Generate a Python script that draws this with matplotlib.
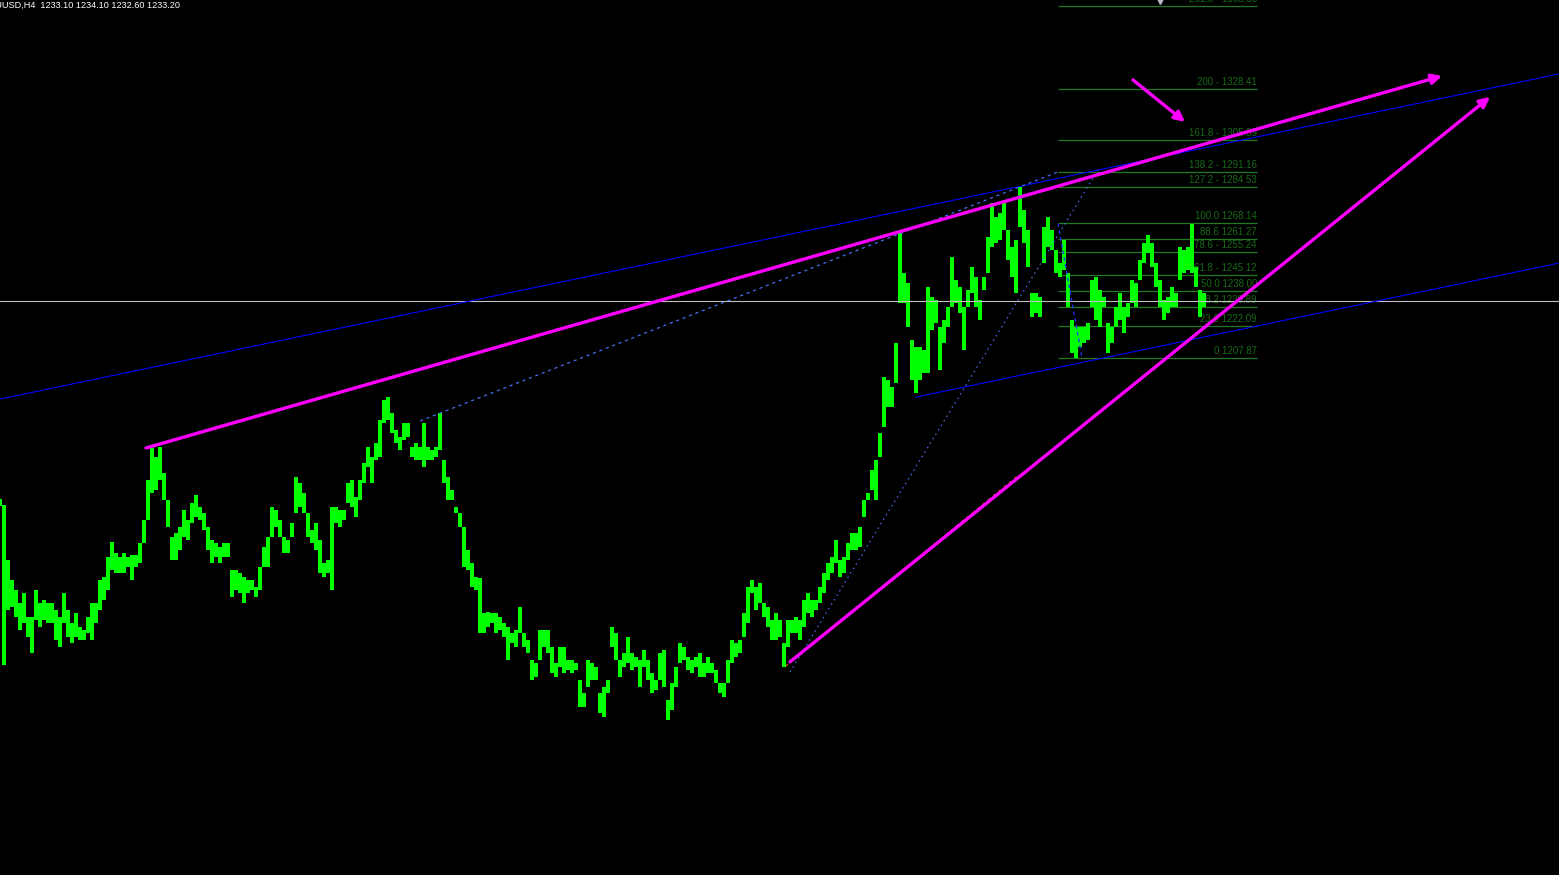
import matplotlib
matplotlib.use('Agg')
import matplotlib.pyplot as plt
import numpy as np

# H4 bars, one entry per ~4 px column of the chart (high / low)
highs = [
  1144.7, 1142.1, 1117.4, 1108.5, 1104.0, 1098.2, 1102.7, 1091.9, 1091.9, 1104.0,
  1098.2, 1099.5, 1098.2, 1098.2, 1095.0, 1091.9, 1102.7, 1095.0, 1089.2, 1093.7,
  1087.4, 1086.1, 1091.9, 1098.2, 1098.2, 1108.5, 1109.8, 1118.8, 1125.5, 1120.6,
  1118.8, 1120.6, 1118.8, 1119.7, 1119.7, 1125.0, 1135.3, 1153.3, 1167.6, 1163.6,
  1168.0, 1156.4, 1144.3, 1127.7, 1129.5, 1132.2, 1139.8, 1135.3, 1143.0, 1146.5,
  1141.2, 1138.5, 1132.2, 1126.4, 1125.0, 1123.2, 1125.0, 1125.0, 1112.9, 1112.9,
  1111.6, 1109.8, 1108.5, 1108.5, 1105.4, 1114.3, 1123.2, 1127.7, 1141.2, 1139.8,
  1135.3, 1127.7, 1126.4, 1134.0, 1154.6, 1151.9, 1147.5, 1138.5, 1130.9, 1134.0,
  1126.4, 1116.1, 1117.4, 1141.2, 1141.2, 1139.8, 1139.8, 1151.9, 1153.3, 1145.6,
  1153.3, 1160.9, 1168.0, 1163.6, 1169.8, 1180.1, 1189.1, 1190.4, 1183.3, 1175.6,
  1172.5, 1178.8, 1178.8, 1168.0, 1169.8, 1168.0, 1178.8, 1168.0, 1166.7, 1168.0,
  1183.3, 1162.2, 1154.6, 1148.8, 1141.2, 1138.5, 1132.2, 1121.9, 1116.1, 1109.8,
  1109.4, 1093.7, 1094.1, 1093.7, 1093.7, 1091.9, 1089.2, 1087.4, 1084.7, 1086.1,
  1096.4, 1084.7, 1081.6, 1072.7, 1071.3, 1086.1, 1086.1, 1086.1, 1078.5, 1071.3,
  1078.5, 1078.5, 1072.7, 1072.7, 1071.3, 1063.7, 1057.9, 1072.7, 1071.3, 1069.5,
  1057.9, 1060.6, 1063.7, 1087.4, 1084.7, 1072.7, 1075.8, 1083.0, 1075.8, 1074.0,
  1072.7, 1077.1, 1072.7, 1066.9, 1063.7, 1075.8, 1077.1, 1054.7, 1062.4, 1069.5,
  1080.3, 1078.5, 1074.0, 1072.7, 1074.0, 1075.8, 1071.3, 1074.0, 1071.3, 1068.2,
  1062.4, 1062.4, 1072.7, 1081.6, 1080.3, 1081.6, 1093.7, 1105.4, 1108.5, 1105.4,
  1107.1, 1098.2, 1096.4, 1090.6, 1093.7, 1090.6, 1080.3, 1090.6, 1090.6, 1091.9,
  1090.6, 1099.5, 1102.7, 1099.5, 1099.5, 1105.4, 1111.6, 1116.1, 1118.8, 1126.4,
  1117.4, 1118.8, 1125.0, 1129.5, 1129.5, 1132.2, 1144.3, 1147.5, 1157.7, 1162.2,
  1174.3, 1199.4, 1198.0, 1194.9, 1214.6, 1263.9, 1245.9, 1241.5, 1215.9, 1212.8,
  1212.8, 1211.5, 1239.7, 1235.2, 1233.9, 1221.8, 1224.9, 1230.7, 1253.1, 1242.8,
  1239.7, 1230.7, 1238.3, 1248.6, 1244.2, 1233.9, 1244.2, 1262.1, 1277.3, 1271.0,
  1272.8, 1277.3, 1265.2, 1257.6, 1260.7, 1284.5, 1274.2, 1265.2, 1237.0, 1237.0,
  1235.2, 1266.5, 1271.0, 1265.2, 1256.3, 1250.4, 1260.7, 1245.9, 1224.9, 1221.8,
  1221.8, 1221.8, 1223.6, 1242.8, 1244.2, 1238.3, 1235.2, 1223.6, 1221.8, 1230.7,
  1237.0, 1230.7, 1232.5, 1242.8, 1241.5, 1251.8, 1259.4, 1263.0, 1259.4, 1250.4,
  1242.8, 1233.9, 1235.2, 1239.7, 1237.0, 1257.6, 1256.3, 1257.6, 1268.1, 1248.6,
  1238.3, 1237.0]

lows = [
  1141.6, 1070.5, 1095.0, 1096.4, 1091.9, 1086.1, 1089.2, 1083.0, 1075.8, 1090.6,
  1087.4, 1090.6, 1089.2, 1089.2, 1081.6, 1078.5, 1089.2, 1083.0, 1080.3, 1083.0,
  1081.6, 1081.6, 1084.7, 1081.6, 1089.2, 1095.0, 1099.5, 1104.0, 1112.9, 1111.6,
  1111.6, 1111.6, 1114.3, 1108.5, 1114.3, 1116.1, 1125.0, 1135.3, 1147.5, 1148.8,
  1153.3, 1144.3, 1132.2, 1117.4, 1117.4, 1121.9, 1127.7, 1126.4, 1134.0, 1136.7,
  1135.3, 1130.9, 1121.9, 1116.1, 1118.8, 1116.1, 1118.8, 1118.8, 1100.9, 1104.0,
  1102.7, 1098.2, 1102.7, 1104.0, 1100.9, 1104.0, 1114.3, 1114.3, 1127.7, 1132.2,
  1127.7, 1120.6, 1120.6, 1127.7, 1138.5, 1141.2, 1138.5, 1127.7, 1125.0, 1121.9,
  1111.6, 1109.8, 1111.6, 1104.0, 1134.0, 1132.2, 1135.3, 1143.0, 1141.2, 1136.7,
  1144.3, 1151.9, 1159.1, 1151.9, 1162.2, 1163.6, 1178.8, 1180.1, 1174.3, 1169.8,
  1166.7, 1171.2, 1172.5, 1163.6, 1162.2, 1162.2, 1159.1, 1162.2, 1162.2, 1163.6,
  1166.7, 1151.9, 1144.3, 1144.3, 1138.5, 1132.2, 1114.3, 1112.9, 1105.4, 1104.0,
  1084.7, 1084.7, 1087.4, 1089.2, 1084.7, 1086.1, 1083.0, 1072.7, 1080.3, 1078.5,
  1084.7, 1078.5, 1075.8, 1063.7, 1065.0, 1072.7, 1078.5, 1075.8, 1066.9, 1065.0,
  1069.5, 1066.9, 1068.2, 1066.9, 1068.2, 1051.6, 1051.6, 1060.6, 1063.7, 1063.7,
  1048.9, 1047.1, 1057.9, 1078.5, 1072.7, 1065.0, 1069.5, 1071.3, 1068.2, 1069.5,
  1060.6, 1069.5, 1063.7, 1057.9, 1059.2, 1063.7, 1060.6, 1045.8, 1050.3, 1060.6,
  1071.3, 1072.7, 1068.2, 1066.9, 1069.5, 1065.0, 1065.0, 1066.9, 1066.9, 1062.4,
  1057.9, 1056.1, 1062.4, 1071.3, 1074.0, 1075.8, 1083.0, 1089.2, 1102.7, 1095.0,
  1098.2, 1091.9, 1087.4, 1081.6, 1081.6, 1083.0, 1069.5, 1078.5, 1084.7, 1084.7,
  1081.6, 1087.4, 1093.7, 1091.9, 1095.0, 1098.2, 1102.7, 1108.5, 1111.6, 1116.1,
  1109.8, 1111.6, 1117.4, 1121.9, 1121.9, 1123.2, 1136.7, 1144.3, 1148.8, 1144.3,
  1163.6, 1177.0, 1185.9, 1185.9, 1196.7, 1232.5, 1232.5, 1221.8, 1198.0, 1192.2,
  1198.0, 1201.2, 1201.2, 1220.4, 1223.6, 1202.5, 1214.6, 1221.8, 1230.7, 1232.5,
  1228.0, 1211.5, 1230.7, 1237.0, 1230.7, 1224.9, 1238.3, 1245.9, 1257.6, 1259.4,
  1260.7, 1265.2, 1251.8, 1244.2, 1237.0, 1266.5, 1259.4, 1248.6, 1226.2, 1228.0,
  1226.2, 1250.4, 1257.6, 1256.3, 1245.9, 1244.2, 1247.3, 1230.7, 1210.1, 1207.9,
  1212.8, 1214.6, 1215.9, 1230.7, 1224.9, 1221.8, 1230.7, 1210.1, 1214.6, 1221.8,
  1224.9, 1219.1, 1226.2, 1232.5, 1230.7, 1242.8, 1250.4, 1254.9, 1248.6, 1239.7,
  1230.7, 1224.9, 1228.0, 1230.7, 1230.7, 1242.8, 1245.9, 1247.3, 1245.9, 1239.7,
  1226.2, 1230.7]

title = 'XAUUSD,H4  1233.10 1234.10 1232.60 1233.20'
last_price = 1233.20

# fibonacci retracement / expansion levels
fib_pct = ['261.8', '200', '161.8', '138.2', '127.2', '100.0', '88.6', '78.6',
           '61.8', '50.0', '38.2', '23.6', '0']
fib_price = [1365.66, 1328.41, 1305.39, 1291.16, 1284.53, 1268.14, 1261.27,
             1255.24, 1245.12, 1238.00, 1230.89, 1222.09, 1207.87]
fib_sep = [' - ', ' - ', ' - ', ' - ', ' - ', ' ', ' ', ' - ', ' - ', ' ', ' ', ' ', ' ']
fib_x = (264.5, 314.25)  # bar range of the fib object

# trend objects: (bar, price) start and end
magenta_upper = [(36.5, 1167.6), (360.5, 1334.2)]
magenta_lower = [(197.5, 1071.8), (372.5, 1324.8)]
magenta_small = [(283.25, 1332.4), (296.25, 1313.6)]
channel_upper = [(0, 1189.5), (389.75, 1335.1)]
channel_lower = [(229, 1190.4), (389.75, 1250.4)]
dotted_top = [(105, 1179.7), (264.5, 1291.2)]
dotted_steep = [(197.5, 1067.3), (274.5, 1292.1)]
fib_anchor = [(264.5, 1268.14), (270.5, 1207.87)]
red_dotted = [(196.5, 1070.0), (255, 1156.0)]

W, H = 1559, 875
fig = plt.figure(figsize=(W / 100, H / 100), dpi=100, facecolor='black')
ax = fig.add_axes([0, 0, 1, 1])
ax.set_facecolor('black')
ax.set_xlim(0, W / 4)
ax.set_ylim(1368.2 - H * 0.4478, 1368.2)
ax.axis('off')

font = 'Liberation Sans'

# fib levels, under the price
ax.hlines(fib_price, fib_x[0], fib_x[1], color='#217a21', lw=0.9, zorder=1)
for pct, pr, sep in zip(fib_pct, fib_price, fib_sep):
  ax.text(fib_x[1], pr + 0.9, '%s%s%.2f' % (pct, sep, pr), color='#186a18',
          fontsize=7, family=font, ha='right', va='bottom', zorder=1)
ax.plot([290], [1367.6], marker='v', color='#b8b8c8', ms=4, zorder=1)

# price bars
hi = np.array(highs)
lo = np.array(lows)
x = np.arange(len(hi))
ax.bar(x, hi - lo, bottom=lo, width=1.0, color='#00ff00', linewidth=0, zorder=2)

# current price line
ax.axhline(last_price, color='#c0c0c0', lw=0.8, zorder=3)

def seg(pts, **kw):
  (x0, y0), (x1, y1) = pts
  ax.plot([x0, x1], [y0, y1], **kw)

seg(channel_upper, color='#0000ff', lw=0.8, zorder=3)
seg(channel_lower, color='#0000ff', lw=0.8, zorder=3)
seg(dotted_top, color='#4a6cf0', lw=0.9, ls=(0, (2.5, 3)), zorder=3)
seg(dotted_steep, color='#4a6cf0', lw=0.9, ls=(0, (1.2, 3)), zorder=3)
seg(fib_anchor, color='#2030ff', lw=0.9, ls=(0, (3, 2.5)), zorder=3)
seg(red_dotted, color='#ff4a10', lw=0.9, ls=(0, (2, 3.5)), zorder=3)

for pts in (magenta_upper, magenta_lower, magenta_small):
  ax.annotate('', xy=pts[1], xytext=pts[0],
              arrowprops=dict(arrowstyle='-|>', color='#ff00ff', lw=2.4,
                              mutation_scale=15, shrinkA=0, shrinkB=0),
              zorder=4)

fig.text(-17 / W, 1 - 1 / H, title, color='white', fontsize=6.6, family=font,
         ha='left', va='top')

plt.savefig('out.png', dpi=100, facecolor='black')
